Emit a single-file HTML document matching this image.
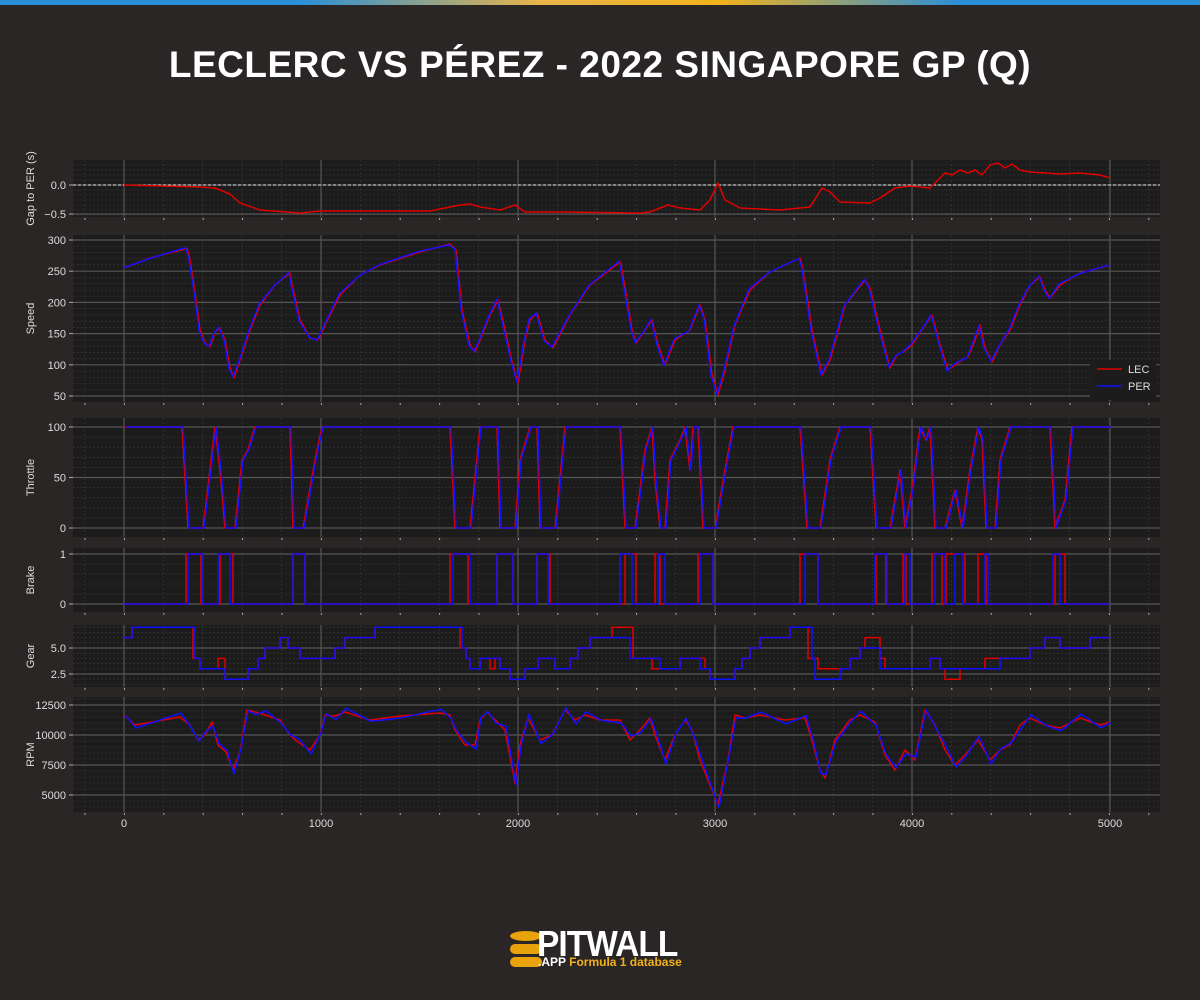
<!DOCTYPE html>
<html><head><meta charset="utf-8"><style>
html,body{margin:0;padding:0;background:#292625;}
body{width:1200px;height:1000px;position:relative;overflow:hidden;font-family:"Liberation Sans",sans-serif;}
.bar{position:absolute;top:0;left:0;width:1200px;height:5px;background:linear-gradient(90deg,#2a8fd8 0%,#2a8fd8 25%,#e9b44a 45%,#f3b21c 60%,#2a8fd8 80%,#2a8fd8 100%);}
h1{position:absolute;top:44px;left:0;width:1200px;text-align:center;margin:0;color:#fff;font-size:37px;font-weight:bold;letter-spacing:0.5px;}
svg{position:absolute;top:0;left:0;}
</style></head><body>
<div class="bar"></div>
<h1>LECLERC VS PÉREZ - 2022 SINGAPORE GP (Q)</h1>
<svg id="s" width="1200" height="1000" xmlns="http://www.w3.org/2000/svg" font-family="Liberation Sans, sans-serif"></svg>
<div style="position:absolute;left:510px;top:931px;width:32px;height:38px;">
 <div style="position:absolute;left:0;top:0;width:32px;height:10px;border-radius:50%;background:#e8a20c"></div>
 <div style="position:absolute;left:0;top:13px;width:32px;height:10px;border-radius:5px;background:#e8a20c"></div>
 <div style="position:absolute;left:0;top:26px;width:32px;height:10px;border-radius:5px;background:#e8a20c"></div>
</div>
<div style="position:absolute;left:537px;top:923px;color:#fff;font-weight:bold;font-size:36px;letter-spacing:-1px;transform:scaleX(0.93);transform-origin:left;">PITWALL</div>
<div style="position:absolute;left:538px;top:955px;color:#fff;font-weight:bold;font-size:12px;">.APP <span style="color:#f2b01e">Formula 1 database</span></div>
<script>
const S=document.getElementById('s');let h='';
const X0=73,X1=1160;
const panels=[
 {t:160,b:217,label:'Gap to PER (s)',ticks:[[185,'0.0'],[214,'−0.5']],minor:5},
 {t:235,b:402,label:'Speed',ticks:[[240,'300'],[271.2,'250'],[302.4,'200'],[333.6,'150'],[364.8,'100'],[396,'50']],minor:6.24},
 {t:418,b:537,label:'Throttle',ticks:[[427,'100'],[477.5,'50'],[528,'0']],minor:10.1},
 {t:548,b:612,label:'Brake',ticks:[[554,'1'],[604,'0']],minor:10},
 {t:625,b:687,label:'Gear',ticks:[[648,'5.0'],[674,'2.5']],minor:5.2},
 {t:697,b:812,label:'RPM',ticks:[[705,'12500'],[735,'10000'],[765,'7500'],[795,'5000']],minor:6},
];
const xs=[124,321,518,715,912,1110];
panels.forEach(p=>{
 h+=`<rect x="${X0}" y="${p.t}" width="${X1-X0}" height="${p.b-p.t}" fill="#1c1c1c"/>`;
 for(let y=p.ticks[0][0]-p.minor*10;y<p.b;y+=p.minor){if(y>p.t)h+=`<line x1="${X0}" x2="${X1}" y1="${y}" y2="${y}" stroke="#333" stroke-width="0.8" stroke-dasharray="2,2"/>`;}
 for(let x=124-197;x<X1;x+=39.4){if(x>X0)h+=`<line x1="${x}" x2="${x}" y1="${p.t}" y2="${p.b}" stroke="#333" stroke-width="0.8" stroke-dasharray="2,2"/>`;}
 xs.forEach(x=>h+=`<line x1="${x}" x2="${x}" y1="${p.t}" y2="${p.b}" stroke="#555" stroke-width="1.2"/>`);
 p.ticks.forEach(([y,l])=>{h+=`<line x1="${X0}" x2="${X1}" y1="${y}" y2="${y}" stroke="#555" stroke-width="1.2"/><line x1="${X0-4}" x2="${X0}" y1="${y}" y2="${y}" stroke="#aaa"/><text x="${X0-7}" y="${y+4}" fill="#ddd" font-size="11" text-anchor="end">${l}</text>`;});
 const cy=(p.t+p.b)/2;
 h+=`<text transform="translate(34,${cy}) rotate(-90)" fill="#ddd" font-size="11" text-anchor="middle">${p.label}</text>`;
 for(let x=85;x<X1;x+=39.4)h+=`<line x1="${x}" x2="${x}" y1="${p.b+1}" y2="${p.b+3}" stroke="#aaa"/>`;
});
['0','1000','2000','3000','4000','5000'].forEach((l,i)=>h+=`<text x="${xs[i]}" y="827" fill="#ddd" font-size="11" text-anchor="middle">${l}</text>`);
function pl(pts,c,w){return `<polyline points="${pts.map(p=>p.join(',')).join(' ')}" fill="none" stroke="${c}" stroke-width="${w||1.5}" stroke-linejoin="round"/>`;}
function jit(pts,dx,amp){return pts.map((p,i)=>[p[0]+dx,p[1]+(Math.sin(i*2.3)*amp)]);}
h+=`<line x1="${X0}" x2="${X1}" y1="185" y2="185" stroke="#ddd" stroke-dasharray="3,2"/>`;
const gap=[[124,185],[200,187],[215,188],[230,194],[240,203],[260,210],[300,213],[320,211],[360,211],[430,211],[460,205],[470,204],[480,207],[500,210],[515,205],[525,212],[560,212],[640,213],[650,212],[668,205],[680,208],[700,210],[710,200],[718,183],[725,200],[740,208],[780,210],[810,207],[822,188],[830,192],[840,202],[870,203],[880,198],[895,188],[910,186],[930,188],[938,180],[945,173],[952,175],[960,170],[968,173],[975,170],[982,175],[990,165],[998,163],[1005,168],[1012,164],[1020,170],[1030,172],[1060,174],[1080,173],[1100,175],[1110,178]];
h+=pl(gap,'#e00000');
const sp=[[124,268],[150,258],[185,249],[187,248],[190,260],[196,300],[200,330],[205,343],[210,347],[215,332],[220,328],[225,340],[230,368],[234,378],[240,360],[250,330],[260,305],[275,285],[290,273],[292,285],[300,320],[310,338],[318,340],[325,325],[340,295],[360,275],[380,265],[420,252],[450,244],[456,250],[462,310],[470,345],[475,352],[480,340],[490,315],[498,300],[505,330],[512,362],[518,383],[525,340],[530,320],[537,313],[545,340],[553,348],[570,315],[590,285],[620,262],[622,270],[632,330],[636,343],[645,330],[652,320],[658,345],[665,365],[675,340],[690,330],[700,305],[705,320],[712,375],[718,395],[725,370],[735,325],[750,290],[770,272],[800,258],[803,270],[812,330],[822,375],[830,360],[845,305],[865,280],[870,288],[880,330],[890,368],[897,355],[903,352],[912,345],[925,325],[932,315],[940,345],[948,370],[955,365],[962,360],[968,357],[975,340],[980,325],[985,348],[992,362],[1000,345],[1010,330],[1020,305],[1030,285],[1040,277],[1045,290],[1050,298],[1060,285],[1080,273],[1110,265]];
h+=pl(sp,'#e00000')+pl(jit(sp,-1,1),'#1010ff');
const th=[[124,427],[182,427],[188,528],[203,528],[210,470],[215,427],[220,470],[225,528],[235,528],[242,460],[248,450],[255,427],[290,427],[293,528],[303,528],[315,460],[322,427],[450,427],[455,528],[470,528],[480,427],[497,427],[500,528],[515,528],[520,460],[530,427],[537,427],[540,528],[555,528],[565,427],[620,427],[625,528],[635,528],[645,450],[652,427],[655,480],[660,528],[665,528],[670,460],[680,440],[685,427],[690,470],[693,427],[698,427],[703,528],[715,528],[725,470],[733,427],[800,427],[807,528],[820,528],[830,460],[840,427],[870,427],[876,528],[890,528],[900,470],[905,528],[912,490],[920,427],[926,440],[930,427],[935,528],[945,528],[955,490],[962,528],[970,470],[978,427],[982,440],[986,528],[995,528],[1000,460],[1010,427],[1050,427],[1055,528],[1065,500],[1072,427],[1110,427]];
h+=pl(th,'#e00000')+pl(jit(th,1,0),'#1010ff');
function blocks(b){let p=[[124,604]];b.forEach(([a,c])=>{p.push([a,604],[a,554],[c,554],[c,604]);});p.push([1110,604]);return p;}
h+=pl(blocks([[186,201],[220,233],[293,305],[450,468],[497,513],[537,550],[625,636],[655,660],[698,713],[800,818],[876,886],[903,906],[932,942],[946,965],[978,986],[1055,1065]]),'#e00000');
h+=pl(blocks([[188,203],[218,230],[293,305],[453,470],[497,513],[537,548],[620,632],[658,665],[700,713],[805,818],[875,887],[905,910],[935,945],[955,963],[985,988],[1053,1060]]),'#1010ff');
const gy=g=>648-(g-5)*10.4;
function steps(s){let p=[];s.forEach(([x,g],i)=>{if(i>0)p.push([x,gy(s[i-1][1])]);p.push([x,gy(g)]);});return p;}
const gp=[[124,6],[132,7],[195,4],[200,3],[225,2],[248,3],[258,4],[265,5],[280,6],[288,5],[300,4],[335,5],[345,6],[375,7],[462,5],[466,4],[470,3],[480,4],[500,3],[510,2],[525,3],[538,4],[555,3],[570,4],[578,5],[590,6],[630,4],[660,3],[680,4],[700,3],[710,2],[735,3],[742,4],[750,5],[760,6],[790,7],[812,4],[815,2],[840,3],[850,4],[860,5],[880,3],[930,4],[940,3],[1000,4],[1030,5],[1045,6],[1060,5],[1090,6],[1110,6]];
const gl=[[124,6],[132,7],[193,4],[200,3],[218,4],[225,2],[248,3],[258,4],[265,5],[280,6],[288,5],[300,4],[335,5],[345,6],[375,7],[460,5],[466,4],[470,3],[480,4],[490,3],[495,4],[500,3],[510,2],[525,3],[538,4],[555,3],[570,4],[578,5],[590,6],[612,7],[633,4],[652,3],[680,4],[705,3],[710,2],[735,3],[742,4],[750,5],[760,6],[790,7],[808,4],[818,3],[838,3],[850,4],[860,5],[865,6],[880,4],[885,3],[930,4],[940,3],[945,2],[960,3],[985,4],[1030,5],[1045,6],[1060,5],[1090,6],[1110,6]];
h+=pl(steps(gl),'#e00000')+pl(steps(gp),'#1010ff');
const rp=[[124,715],[135,725],[180,717],[190,725],[198,740],[205,735],[212,722],[218,745],[226,752],[233,770],[240,752],[247,710],[255,712],[265,715],[280,720],[290,735],[298,742],[310,750],[320,735],[325,715],[335,716],[345,712],[370,720],[400,716],[440,713],[450,715],[455,730],[465,745],[475,745],[480,720],[487,712],[495,720],[505,730],[515,783],[520,745],[528,718],[540,740],[552,735],[565,710],[575,720],[585,715],[600,720],[620,720],[630,740],[640,730],[650,718],[655,735],[665,760],[675,735],[685,720],[692,730],[700,760],[712,790],[718,805],[728,760],[735,715],[745,718],[760,715],[785,720],[805,718],[812,740],[820,770],[825,778],[835,740],[850,720],[860,715],[875,722],[885,755],[895,770],[905,750],[915,760],[925,710],[935,725],[945,750],[955,765],[965,755],[978,740],[990,760],[1000,750],[1010,745],[1020,725],[1030,718],[1045,725],[1060,728],[1080,718],[1100,725],[1110,722]];
h+=pl(rp,'#e00000')+pl(jit(rp,1,4),'#1010ff');
h+=`<rect x="1090" y="360" width="66" height="40" fill="#1c1c1c"/><line x1="1097" x2="1122" y1="369" y2="369" stroke="#e00000" stroke-width="1.5"/><text x="1128" y="373" fill="#ddd" font-size="11">LEC</text><line x1="1097" x2="1122" y1="386" y2="386" stroke="#1010ff" stroke-width="1.5"/><text x="1128" y="390" fill="#ddd" font-size="11">PER</text>`;
S.innerHTML=h;
</script>
</body></html>
